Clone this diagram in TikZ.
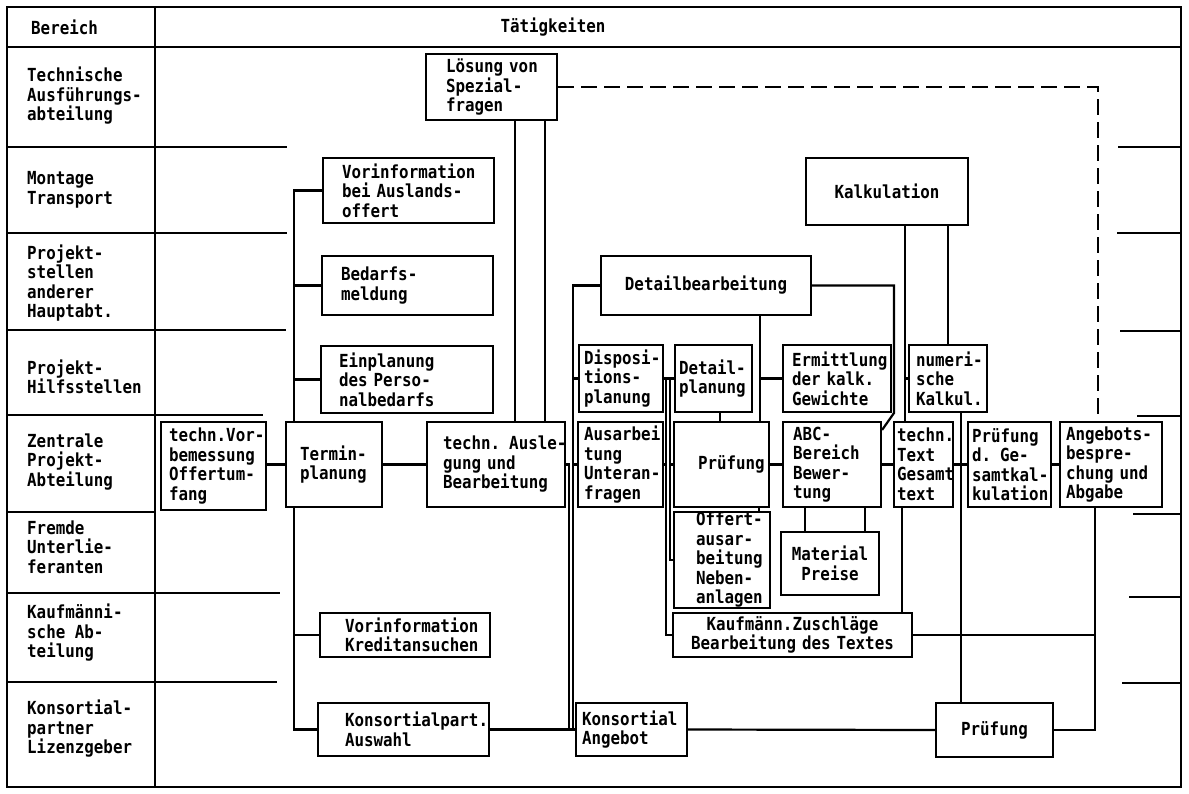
\documentclass[tikz,border=0pt]{standalone}
\usepackage{fontspec}
\newfontfamily\typw[FakeStretch=0.88]{DejaVu Sans Mono}
\usetikzlibrary{backgrounds}
\newcommand\dgfont{\typw\bfseries\fontsize{18}{19.5}\selectfont\hyphenpenalty=10000\exhyphenpenalty=10000\relax}
\newcommand\mkbox[8][]{%
 \pgfmathsetmacro\bxw{#5-#3-2*#7}%
 \pgfmathsetmacro\bxh{#6-#4}%
 \node[box,inner xsep=#7pt,text width=\bxw pt,minimum height=\bxh pt,#1] (#2) at ({(#3+#5)/2},{(#4+#6)/2}) {#8};}
\begin{document}
\begin{tikzpicture}[x=1pt,y=-1pt,
  ln/.style={line width=2.2pt},
  box/.style={draw,line width=2.2pt,fill=white,rectangle,font=\dgfont,inner ysep=0pt,align=left},
  lbl/.style={font=\dgfont,align=left,anchor=west,inner sep=0pt},
  dsh/.style={line width=2.2pt,dash pattern=on 16pt off 7pt}]
\useasboundingbox (0,0) rectangle (1189,793);

% header and row labels
\node[lbl] (hb) at (31,27) {Bereich};
\node[font=\dgfont,inner sep=0pt] (ht) at (553,27) {Tätigkeiten};
\node[lbl] (r1) at (27,96) {Technische\\Ausführungs-\\abteilung};
\node[lbl] (r2) at (27,190) {Montage\\Transport};
\node[lbl] (r3) at (27,283) {Projekt-\\stellen\\anderer\\Hauptabt.};
\node[lbl] (r4) at (27,377) {Projekt-\\Hilfsstellen};
\node[lbl] (r5) at (27,462) {Zentrale\\Projekt-\\Abteilung};
\node[lbl] (r6) at (27,547) {Fremde\\Unterlie-\\feranten};
\node[lbl] (r7) at (27,633) {Kaufmänni-\\sche Ab-\\teilung};
\node[lbl] (r8) at (27,729) {Konsortial-\\partner\\Lizenzgeber};

% boxes
\mkbox{los}{426}{54}{557}{120}{20}{\mbox{Lösung von}\\Spezial-\\fragen}
\mkbox{vorinfo}{323}{158}{494}{223}{19}{Vorinformation\\\mbox{bei Auslands-}\\offert}
\mkbox{bedarf}{322}{256}{493}{315}{19}{Bedarfs-\\meldung}
\mkbox{einpl}{321}{346}{493}{413}{18}{Einplanung\\\mbox{des Perso-}\\nalbedarfs}
\mkbox{vorbem}{161}{422}{266}{510}{8}{techn.Vor-\\bemessung\\Offertum-\\fang}
\mkbox{termin}{286}{422}{382}{507}{14}{Termin-\\planung}
\mkbox{ausl}{427}{422}{565}{507}{16}{\mbox{techn. Ausle-}\\\mbox{gung und}\\Bearbeitung}
\mkbox[align=center]{detail}{601}{256}{811}{315}{4}{Detailbearbeitung}
\mkbox{dispo}{579}{345}{663}{412}{5}{Disposi-\\tions-\\planung}
\mkbox{dplan}{675}{345}{752}{412}{4}{Detail-\\planung}
\mkbox{ausarb}{578}{422}{663}{507}{6}{Ausarbei\\tung\\Unteran-\\fragen}
\mkbox{pruef1}{674}{422}{769}{507}{24}{Prüfung}
\mkbox{abc}{783}{422}{881}{507}{10}{ABC-\\Bereich\\Bewer-\\tung}
\mkbox{offert}{674}{512}{770}{608}{22}{Offert-\\ausar-\\beitung\\Neben-\\anlagen}
\mkbox[align=center]{mat}{781}{532}{879}{595}{4}{Material\\Preise}
\mkbox[align=center]{kaufm}{673}{613}{912}{657}{4}{Kaufmänn.Zuschläge\\\mbox{Bearbeitung des Textes}}
\mkbox{ermitt}{783}{345}{891}{412}{9}{Ermittlung\\\mbox{der kalk.}\\Gewichte}
\mkbox{numeri}{909}{345}{987}{412}{7}{numeri-\\sche\\Kalkul.}
\mkbox[align=center]{kalk}{806}{158}{968}{225}{4}{Kalkulation}
\mkbox{text}{894}{422}{953}{507}{3}{techn.\\Text\\Gesamt\\text}
\mkbox{pgk}{968}{422}{1051}{507}{4}{Prüfung\\\mbox{d. Ge-}\\samtkal-\\kulation}
\mkbox{angeb}{1060}{422}{1162}{507}{6}{Angebots-\\bespre-\\\mbox{chung und}\\Abgabe}
\mkbox{kredit}{320}{613}{490}{657}{25}{Vorinformation\\Kreditansuchen}
\mkbox{kpart}{318}{703}{489}{756}{27}{Konsortialpart.\\Auswahl}
\mkbox{kang}{576}{703}{687}{756}{6}{Konsortial\\Angebot}
\mkbox[align=center]{pruef2}{936}{703}{1053}{757}{4}{Prüfung}

% x positions of vertical connectors
\coordinate (xa) at (515,0);
\coordinate (xb) at (545,0);
\coordinate (xs) at (294,0);
\coordinate (xl1) at (569,0);
\coordinate (xl2) at (573,0);
\coordinate (xm1) at (666,0);
\coordinate (xm2) at (670,0);
\coordinate (xp) at (720,0);
\coordinate (xq) at (759,0);
\coordinate (xd) at (760,0);
\coordinate (dg1) at (894,413);
\coordinate (xk1) at (905,0);
\coordinate (xk2) at (948,0);
\coordinate (xn) at (961,0);
\coordinate (xt) at (902,0);
\coordinate (xg) at (1095,0);
\coordinate (xda) at (1098,0);
\coordinate (xmat1) at (805,0);
\coordinate (xmat2) at (865,0);

\begin{scope}[on background layer]
\fill[white] (0,0) rectangle (1189,793);
% frame
\draw[ln] (7,7) rectangle (1181,787);
\draw[ln] (7,47) -- (1181,47);
\draw[ln] (155,7) -- (155,787);
\draw[ln] (7,147) -- (287,147);
\draw[ln] (7,233) -- (287,233);
\draw[ln] (7,330) -- (286,330);
\draw[ln] (7,415) -- (263,415);
\draw[ln] (7,512) -- (155,512);
\draw[ln] (7,593) -- (280,593);
\draw[ln] (7,682) -- (277,682);
\draw[ln] (1118,147) -- (1181,147);
\draw[ln] (1117,233) -- (1181,233);
\draw[ln] (1120,331) -- (1181,331);
\draw[ln] (1137,416) -- (1181,416);
\draw[ln] (1133,514) -- (1181,514);
\draw[ln] (1129,597) -- (1181,597);
\draw[ln] (1122,683) -- (1181,683);

% connectors
\draw[ln] (xa |- los.south) -- (xa |- ausl.north);
\draw[ln] (xb |- los.south) -- (xb |- ausl.north);
\draw[dsh] (los.east) -| (xda |- angeb.north);
\draw[ln] (vorinfo.west) -| (xs |- kpart.west) -- (kpart.west);
\draw[ln] (bedarf.west) -- (xs |- bedarf.west);
\draw[ln] (einpl.west) -- (xs |- einpl.west);
\draw[ln] (kredit.west) -- (xs |- kredit.west);
\draw[ln] (vorbem.east |- termin.west) -- (termin.west);
\draw[ln] (termin.east) -- (ausl.west);
\draw[ln] (detail.west) -| (xl2 |- kang.west);
\draw[ln] (kpart.east) -- (kang.west);
\draw[ln] (xl2 |- dispo.west) -- (dispo.west);
\draw[ln] (xl2 |- ausarb.west) -- (ausarb.west);
\draw[ln] (ausl.east) -| (xl1 |- kang.west);
\draw[ln] (dispo.east) -- (dplan.west);
\draw[ln] (xm1 |- dispo.east) |- (kaufm.west);
\draw[ln] (ausarb.east) -- (xm1 |- ausarb.east);
\draw[ln] (xm2 |- dispo.east) |- (offert.west);
\draw[ln] (xm2 |- pruef1.west) -- (pruef1.west);
\draw[ln] (xp |- dplan.south) -- (xp |- pruef1.north);
\draw[ln] (xd |- detail.south) -- (xd |- pruef1.north);
\draw[ln] (ermitt.west) -- (xd |- ermitt.west);
\draw[ln] (pruef1.east) -- (abc.west);
\draw[ln] (xq |- pruef1.south) -- (xq |- offert.north);
\draw[ln] (xmat1 |- abc.south) -- (xmat1 |- mat.north);
\draw[ln] (xmat2 |- abc.south) -- (xmat2 |- mat.north);
\draw[ln] (abc.east) -- (text.west);
\draw[ln] (text.east) -- (pgk.west);
\draw[ln] (pgk.east) -- (angeb.west);
\draw[ln] (detail.east) -| (dg1) -- ([yshift=-9pt]abc.north east);
\draw[ln] (xk1 |- kalk.south) -- (xk1 |- text.north);
\draw[ln] (xk1 |- numeri.west) -- (numeri.west);
\draw[ln] (xk2 |- kalk.south) -- (xk2 |- numeri.north);
\draw[ln] (xn |- numeri.south) -- (xn |- pruef2.north);
\draw[ln] (xt |- text.south) -- (xt |- kaufm.north);
\draw[ln] (kaufm.east) -- (xg |- kaufm.east);
\draw[ln] (xg |- angeb.south) |- (pruef2.east);
\draw[ln] (kang.east) -- (pruef2.west);
\end{scope}
\end{tikzpicture}
\end{document}
